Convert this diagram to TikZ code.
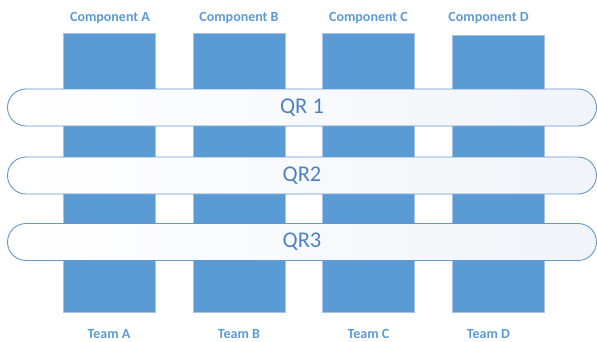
\documentclass[tikz,border=0pt]{standalone}
\usepackage{fontspec}
\setmainfont{Carlito}
\usetikzlibrary{positioning}
\definecolor{colblue}{HTML}{5B9BD5}
\definecolor{coledge}{HTML}{A8C4E4}
\definecolor{qrtext}{HTML}{4F83BE}
\definecolor{qredge}{HTML}{6497CF}
\definecolor{qrshade}{HTML}{F1F4F9}

\begin{document}
\begin{tikzpicture}[x=1pt,y=-1pt,
  column/.style={draw=coledge,line width=0.8pt,fill=colblue,minimum width=92pt,inner sep=0pt},
  qrbar/.style={draw=qredge,line width=0.9pt,rounded corners=18.5pt,left color=white,right color=qrshade,
    minimum width=589pt,minimum height=37pt,inner sep=0pt,text=qrtext,font=\fontsize{22.5}{26}\selectfont},
  lbl/.style={anchor=base,text=colblue,font=\bfseries\fontsize{14}{16}\selectfont,inner sep=0pt}]
\useasboundingbox (0,0) rectangle (597,341);
% columns
\node[column,minimum height=279pt] (colA) at (109.5,172.5) {};
\node[column,minimum height=279pt] (colB) at (239,172.5) {};
\node[column,minimum height=279pt] (colC) at (368.5,172.5) {};
\node[column,minimum height=277pt] (colD) at (498,173.5) {};
% labels
\node[lbl] (compA) at (110,21.5) {Component A};
\node[lbl] (compB) at (239,21.5) {Component B};
\node[lbl] (compC) at (368.5,21.5) {Component C};
\node[lbl] (compD) at (488.5,21.5) {Component D};
\node[lbl] (teamA) at (109,338) {Team A};
\node[lbl] (teamB) at (239,338) {Team B};
\node[lbl] (teamC) at (368.5,338) {Team C};
\node[lbl] (teamD) at (488.5,338) {Team D};
% quarterly bars
\node[qrbar] (qr1) at (302,107.5) {QR 1};
\node[qrbar] (qr2) at (302,175.5) {QR2};
\node[qrbar] (qr3) at (302,242) {QR3};
\end{tikzpicture}
\end{document}
